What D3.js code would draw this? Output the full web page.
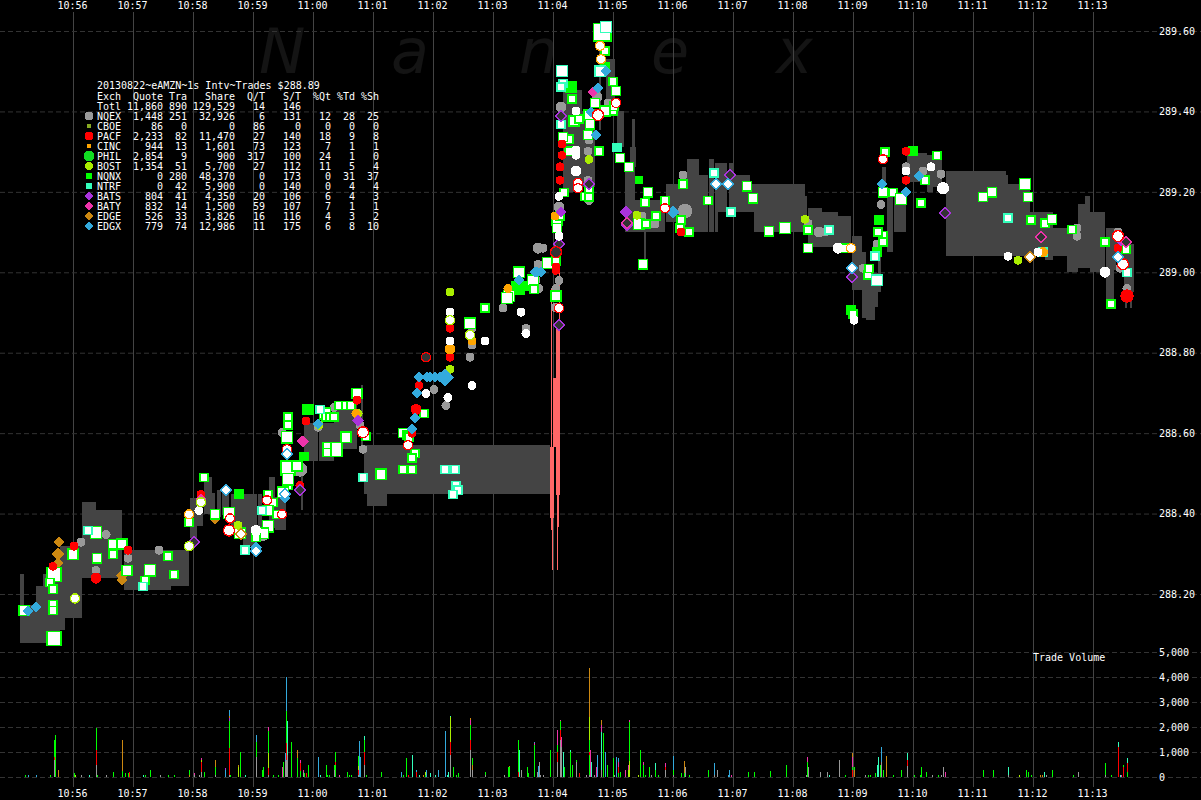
<!DOCTYPE html>
<html><head><meta charset="utf-8">
<style>
html,body{margin:0;padding:0;background:#000;overflow:hidden}
svg{display:block}
text{font-family:"DejaVu Sans Mono","Liberation Mono",monospace;font-size:10px;fill:#fff}
.mk{shape-rendering:crispEdges}
</style>
<script src="https://cdn.jsdelivr.net/npm/d3@7/dist/d3.min.js"></script>
</head><body><svg id="c" width="1201" height="800"></svg>
<script>
// ---- axes ----
const minuteLabels=["10:56","10:57","10:58","10:59","11:00","11:01","11:02","11:03","11:04","11:05","11:06","11:07","11:08","11:09","11:10","11:11","11:12","11:13"];
const priceTicks=[288.2,288.4,288.6,288.8,289.0,289.2,289.4,289.6];
const volumeTicks=[0,1000,2000,3000,4000,5000];
const watermark=["N","a","n","e","x"];
const watermarkSec=[186,318,446,578,703];
// ---- table ----
const titleLine="20130822~eAMZN~1s Intv~Trades $288.89";
const tableHead=["Exch","Quote","Tra","Share","Q/T","S/T","%Qt","%Td","%Sh"];
const totalRow=["Totl","11,860","890","129,529","14","146","","",""];
const exchanges=["NQEX","CBOE","PACF","CINC","PHIL","BOST","NQNX","NTRF","BATS","BATY","EDGE","EDGX"];
const quotes=["1,448","86","2,233","944","2,854","1,354","0","0","804","832","526","779"];
const tradesN=["251","0","82","13","9","51","280","42","41","14","33","74"];
const shares=["32,926","0","11,470","1,601","900","5,700","48,370","5,900","4,350","1,500","3,826","12,986"];
const qt=["6","86","27","73","317","27","0","0","20","59","16","11"];
const st=["131","0","140","123","100","112","173","140","106","107","116","175"];
const pctQt=["12","0","18","7","24","11","0","0","6","7","4","6"];
const pctTd=["28","0","9","1","1","5","31","4","4","1","3","8"];
const pctSh=["25","0","8","1","0","4","37","4","3","1","2","10"];
// ---- NBBO band: seconds after 10:56 and prices ----
const bandFrom=[-53,-49,-37,-30,-13,-8,9,23,51,98,117,124,131,139,144,149,158,170,185,196,202,228,231,246,261,288,291,294,480,490,509,526,533,544,552,557,559,562,571,593,612,614,626,636,642,645,656,660,677,681,732,735,749,765,779,789,793,802,805,809,814,821,834,854,860,873,933,935,957,972,980,994,1005,1012,1017,1033,1041,1043,1051,1052,1057];
const bandTo=[-49,-37,-30,-13,-8,9,23,49,98,116,124,130,139,142,148,156,170,184,189,202,213,230,245,261,284,290,477,314,481,509,522,528,542,551,562,563,562,592,573,612,614,626,635,641,645,654,660,677,681,732,734,749,765,778,789,793,802,805,808,813,820,833,854,860,869,933,935,957,972,980,994,1005,1012,1017,1032,1041,1043,1054,1061,1054,1059];
const bandHigh=[288.249,288.172,288.219,288.249,288.319,288.319,288.428,288.408,288.309,288.309,288.438,288.438,288.491,288.451,288.458,288.458,288.448,288.448,288.448,288.491,288.441,288.508,288.625,288.625,288.675,288.719,288.570,288.570,289.130,289.453,289.400,289.578,289.530,289.401,289.262,289.311,289.381,289.180,289.100,289.219,289.242,289.282,289.242,289.282,289.272,289.272,289.272,289.242,289.219,289.219,289.190,289.160,289.150,289.140,289.090,289.050,288.998,288.998,289.055,289.262,289.187,289.197,289.297,289.292,289.279,289.252,289.242,289.219,289.150,289.150,289.110,289.110,289.170,289.190,289.150,289.110,289.110,289.087,289.070,288.951,288.951];
const bandLow=[288.078,288.078,288.078,288.078,288.110,288.140,288.239,288.239,288.209,288.219,288.339,288.369,288.399,288.399,288.391,288.396,288.364,288.319,288.364,288.364,288.359,288.408,288.530,288.530,288.560,288.560,288.448,288.418,288.235,289.200,289.212,289.354,289.400,289.311,289.100,289.262,289.311,289.100,289.025,289.125,289.100,289.100,289.100,289.100,289.100,289.150,289.150,289.150,289.150,289.100,289.100,289.063,289.063,289.063,288.956,288.886,288.881,288.913,288.951,289.222,289.050,289.100,289.224,289.200,289.212,289.040,289.040,289.040,289.040,289.030,289.040,289.000,289.010,289.010,289.000,288.931,289.005,289.025,288.951,288.911,288.911];
// ---- crossed-market spike ----
const crossFrom=[477,478,479,480,483,484,484,486];
const crossTo=[481,479,480,486,487,486,485,487];
const crossHigh=[288.565,288.961,288.433,288.737,288.861,288.446,288.366,289.063];
const crossLow=[288.389,288.359,288.259,288.565,288.446,288.366,288.259,288.861];
// ---- markers: [seconds after 10:56, price, shares] ----
const nqexQuotes=[[8,288.329],[33,288.348],[55,288.289],[23,288.259],[86,288.309],[227,288.510,1000],[209,288.602],[245,288.615],[261,288.664],[287,288.620],[290,288.560],[190,288.345,300],[373,288.669],[361,288.709],[399,288.861],[397,288.789],[399,288.819],[430,288.911],[453,288.861],[447,289.000,300],[465,289.020],[462,288.980,300],[466,288.960],[486,288.980],[483,288.960],[465,289.060,300],[470,289.060],[482,288.913],[488,289.411,300],[524,289.436,300],[516,289.329],[515,289.301],[515,289.229],[535,289.421],[486,289.162,300],[516,289.179],[569,289.140],[577,289.120],[582,289.120],[610,289.242],[612,289.152,1000],[735,289.122],[746,289.100,300],[752,289.100],[808,289.169],[804,289.070],[790,289.010],[833,289.262],[850,289.252],[868,289.244],[1004,289.110],[1004,289.090],[1045,289.100],[1047,289.010],[1054,288.960]];
const nqexTrades=[[126,288.408],[377,288.901],[377,288.829],[412,288.829],[399,288.719],[353,288.699],[375,288.689],[448,288.901],[453,288.848],[503,289.401],[503,289.304],[503,289.291],[503,289.252,300],[486,289.189],[486,289.090],[765,289.060,300],[858,289.262],[870,289.209,500],[935,289.040],[965,289.050],[1032,289.000,300],[781,288.881],[833,289.252],[183,288.358,300]];
const pacfQuotes=[[1,288.319],[-20,288.269],[55,288.309],[23,288.239,300],[128,288.448],[227,288.470],[233,288.630],[346,288.719],[343,288.659,300],[339,288.600],[377,288.861],[377,288.789],[284,288.682],[483,289.013],[483,289.005],[487,289.262],[487,289.229],[489,289.319],[489,289.291],[608,289.100],[833,289.301],[833,289.229],[1045,289.060],[1054,288.941,700]];
const pacfTrades=[[157,288.388],[156,288.358,300],[209,288.398],[194,288.433],[214,288.560],[290,288.602,300],[335,288.570],[486,288.911],[505,289.222],[505,289.209],[525,289.391,300],[543,289.421],[592,289.159],[810,289.281],[1045,289.090,300],[1050,289.020,300]];
const pacfOpen=[[353,288.789],[483,289.050,300]];
const bostQuotes=[[246,288.620],[377,288.951],[377,288.759],[285,288.649],[516,289.281],[732,289.132],[945,289.030],[165,288.371],[564,289.142]];
const bostTrades=[[2,288.189],[116,288.319],[128,288.428],[377,288.881],[397,288.844]];
const cincQuotes=[[399,288.829],[377,288.809,300],[435,288.960],[283,288.649],[970,289.050,200],[482,289.140]];
const cincTrades=[[116,288.398],[778,289.060],[527,289.563],[528,289.530]];
const nqnxQuotes=[[235,288.659,500],[498,289.461,700],[566,289.229],[532,289.510,300],[445,288.960,1000],[452,288.967,300],[806,289.130,300],[804,289.050,300],[778,288.906,300],[840,289.301,300],[166,288.448,300],[231,288.542,200]];
const nqnxTrades=[[-49,288.159,300],[-19,288.249,1000],[-19,288.090,1000],[-23,288.229],[-20,288.212],[-20,288.174],[-20,288.159],[0,288.299,300],[23,288.353,500],[40,288.324,200],[49,288.324,300],[40,288.299],[24,288.289,200],[54,288.259,300],[77,288.259,500],[72,288.234],[95,288.294],[101,288.249],[116,288.378],[142,288.398,200],[156,288.401,400],[195,288.448],[200,288.428],[195,288.408,300],[195,288.368,500],[167,288.351,400],[190,288.351,400],[183,288.341],[204,288.398],[215,288.470],[131,288.490],[215,288.640],[215,288.620],[214,288.590,500],[215,288.513,1000],[224,288.518,300],[215,288.485,500],[210,288.453,400],[284,288.699,300],[252,288.649,400],[253,288.640],[257,288.640],[261,288.640],[266,288.669],[273,288.669],[278,288.669],[273,288.590,300],[262,288.560,1000],[254,288.567],[254,288.552],[293,288.592],[308,288.498,300],[333,288.510],[339,288.510],[330,288.510],[342,288.550],[339,288.538],[351,288.649],[330,288.600,200],[334,288.595],[336,288.590],[412,288.911],[397,288.873,400],[436,288.941,400],[434,288.936,400],[446,289.000,400],[460,288.980,400],[461,288.958],[475,289.023,400],[483,288.941,300],[529,289.597,2000],[532,289.550],[540,289.475],[543,289.451,200],[522,289.421,200],[540,289.401],[541,289.413],[532,289.401,300],[516,289.391,300],[517,289.368,200],[515,289.341,200],[526,289.301],[547,289.284,200],[556,289.262,200],[575,289.199,200],[572,289.174],[592,289.179],[583,289.140],[566,289.120,500],[573,289.120],[499,289.431],[501,289.376,300],[506,289.381],[496,289.331],[490,289.336,200],[496,289.301],[491,289.199],[516,289.204],[512,289.189],[516,289.187],[484,289.130,300],[484,289.110,200],[487,289.140],[483,289.028],[570,289.020,200],[610,289.219],[635,289.179],[608,289.130],[607,289.110],[616,289.100],[674,289.214,200],[680,289.184,200],[696,289.102,200],[712,289.110,400],[735,289.105],[735,289.060,200],[771,289.060],[812,289.299],[810,289.199,200],[820,289.199],[828,289.182,400],[848,289.172],[810,289.092],[805,289.100],[810,289.075],[780,288.896],[795,288.993],[796,289.010],[852,289.229],[864,289.291],[910,289.187,200],[919,289.199,200],[952,289.219,400],[955,289.187,200],[958,289.130],[972,289.122],[979,289.132,200],[999,289.107],[1032,289.075],[1053,289.057],[1038,288.921]];
const ntrfQuotes=[[544,289.311,200]];
const ntrfTrades=[[533,289.610,400],[527,289.500,300],[489,289.500,400],[488,289.368],[490,289.470],[488,289.461],[15,288.358],[70,288.219],[172,288.309],[189,288.408],[247,288.659],[290,288.490],[372,288.510],[382,288.510],[383,288.470],[385,288.458],[380,288.448],[641,289.247],[658,289.150],[756,289.105],[935,289.135],[804,288.980,400],[802,289.040],[1054,289.000],[970,289.050]];
const batsQuotes=[[285,288.632,200],[488,289.150],[553,289.150,200],[1048,289.080,200]];
const batsOpen=[[121,288.329],[227,288.458],[486,288.868],[488,289.388],[486,289.070],[516,289.219],[554,289.117],[657,289.242],[872,289.147],[779,288.988]];
const batyQuotes=[[128,288.436],[230,288.580,200],[520,289.448]];
const batyOpen=[[968,289.087],[554,289.122],[1053,289.075]];
const edgeQuotes=[[-14,288.329],[-15,288.299,300],[-15,288.276],[49,288.246],[49,288.236],[142,288.386]];
const edgeTrades=[[168,288.348],[957,289.038]];
const edgxQuotes=[[-45,288.157],[-37,288.167],[212,288.438],[183,288.316,200],[344,288.699],[342,288.637],[339,288.610],[346,288.739],[354,288.739],[357,288.739],[362,288.739],[367,288.739],[372,288.739,1000],[212,288.445],[245,288.622],[533,289.500],[525,289.458],[518,289.398],[523,289.341],[600,289.150,300],[833,289.199],[846,289.239],[809,289.219],[446,288.980],[462,289.000],[468,289.000],[464,289.000]];
const edgxTrades=[[153,288.458],[212,288.448],[655,289.219],[643,289.219],[779,289.010],[1045,289.038],[183,288.306],[214,288.547]];
// ---- volume: [seconds, stack from the bottom, letter=exchange + shares] ----
const volumeBars=[[-48,"n100"],[-45,"b100"],[-37,"b100"],[-23,"n100"],[-19,"g700 r100 n700"],[-18,"n1700"],[-15,"o300"],[1,"n150"],[2,"y100"],[8,"g100"],[16,"t100"],[23,"g500 r600 n850"],[24,"n100"],[33,"g100"],[40,"n200"],[49,"n250 o1250"],[52,"n150"],[55,"n150"],[56,"r200"],[70,"t100"],[72,"n100"],[77,"n300"],[87,"g100"],[95,"n100"],[101,"n100"],[116,"o100 n200"],[121,"g100 m50"],[126,"g100"],[128,"g200 r400 y80 m90"],[131,"n200"],[142,"g100 n300 o280"],[152,"b300 p50"],[156,"g100 r1050 n1100 p100 o100 b250"],[157,"n100"],[165,"y400 o100"],[167,"n1000"],[172,"t100"],[183,"g800 n600 b300"],[189,"n300"],[190,"n400"],[195,"g100 r250 y600 n900 m150"],[200,"n100"],[205,"n100"],[209,"m400"],[210,"n600"],[212,"g650 b300"],[213,"g700 r650 n1300 b1350"],[214,"g900 t1350"],[218,"n1400"],[224,"n750 o350"],[227,"n250 r300 m150"],[230,"g200 m100"],[231,"n180"],[233,"r150"],[235,"n500"],[245,"b800"],[247,"t100"],[253,"n500"],[254,"n100"],[256,"n100"],[261,"g300 n200"],[262,"n500 r100 n400"],[266,"m100"],[274,"n200"],[276,"n100"],[278,"n100"],[285,"g100 r200 y150 n400"],[286,"b1450"],[287,"b800"],[291,"g500 r500 n500 t150"],[293,"n100"],[308,"n200"],[328,"b200"],[330,"n100"],[333,"n750"],[335,"r100"],[339,"t900"],[343,"r200 b100"],[346,"t100"],[350,"o100"],[352,"n100 y100"],[353,"b300"],[357,"t150"],[362,"t100"],[365,"b300"],[372,"b1850"],[374,"t100"],[375,"t200"],[377,"g900 r500 y1000 t50"],[380,"n400"],[383,"n100"],[385,"n150"],[397,"g1100 r400 n600 m200 o50"],[399,"g300 o200 n250"],[412,"g100 n100"],[431,"g100"],[435,"n400"],[436,"n400 o50"],[445,"r200 n1300"],[446,"t1100"],[448,"g300"],[454,"n400"],[455,"n150"],[461,"n1300 m50 b50"],[464,"g200"],[466,"g600"],[465,"b450"],[467,"g100"],[470,"g100"],[477,"n1100"],[484,"g600 r400 n300 m600"],[487,"g1500 r400 n350 m50"],[488,"g1200 m400"],[490,"t1000"],[491,"n400"],[497,"n1000 t100"],[499,"n500"],[503,"g600 n100"],[506,"r150"],[513,"g100"],[516,"g100 n800 r100 n500 y900 o1950"],[517,"m1100"],[518,"t600"],[521,"g100"],[523,"m400"],[524,"b900"],[528,"g300 t1500 m300 o200"],[530,"n1750"],[532,"b1000"],[534,"n500"],[540,"n750"],[541,"g100"],[543,"b800"],[545,"n150 r250 m200 b150"],[547,"n200"],[552,"m300"],[555,"y300 m200"],[556,"y650 n1550 m100"],[565,"y100"],[567,"n1100"],[570,"n500 m100"],[572,"n100"],[576,"n400"],[578,"g100"],[582,"n300 t250"],[585,"n100"],[592,"g300 r100 m150"],[600,"g100 n200 b550"],[608,"n150"],[611,"n150 o500"],[612,"g400"],[616,"n100"],[635,"n300"],[641,"g100 b450"],[644,"g300"],[655,"b100"],[656,"b300"],[658,"m100"],[675,"n200"],[681,"n200"],[697,"n250"],[713,"n500"],[733,"g100"],[734,"n600 m200"],[735,"g400"],[747,"g200"],[754,"g200"],[756,"t100"],[766,"g700"],[772,"n100"],[779,"r300 n100 m400 o150"],[781,"o300 n100"],[792,"g100"],[795,"n100"],[797,"n100"],[802,"n150"],[804,"t500"],[805,"t800"],[807,"n500"],[808,"g600 b600"],[810,"n300"],[813,"o850"],[820,"n100"],[828,"n300"],[834,"g450 r250 t250"],[841,"n100"],[847,"n100"],[848,"n400"],[853,"n200"],[859,"g100"],[865,"n100"],[868,"g100"],[870,"g400"],[872,"m200"],[910,"n300"],[920,"n300"],[935,"g100 t300"],[946,"y100"],[953,"n300"],[955,"n200"],[958,"n100"],[967,"o100"],[969,"o100"],[971,"t200"],[973,"g100"],[979,"n300"],[1000,"n100"],[1005,"g200"],[1032,"g100 n450"],[1038,"n100"],[1045,"r1200 t200"],[1047,"t100"],[1048,"m100"],[1050,"r400 n100"],[1054,"n200 r350 t200"]];

// ---- colours ----
const colour={NQEX:"#999999",CBOE:"#88aa22",PACF:"#ff0000",CINC:"#ffa500",PHIL:"#11dd22",BOST:"#aaee00",NQNX:"#00ff00",NTRF:"#33ffbb",BATS:"#aa33dd",BATY:"#ee33aa",EDGE:"#cc8811",EDGX:"#33aadd"};
const letter={g:colour.NQEX,r:colour.PACF,y:colour.BOST,o:colour.EDGE,n:colour.NQNX,t:colour.NTRF,p:colour.BATS,m:colour.BATY,b:colour.EDGX};

const svg=d3.select("#c");
const x=d3.scaleLinear().domain([0,1020]).range([73,1093]);
const y=d3.scaleLinear().domain([288.2,289.6]).range([594,31]);
const yVol=d3.scaleLinear().domain([0,5000]).range([777,652]);
const shareSide=d3.scaleSqrt().domain([100,2000]).range([9.5,19]);
const minuteSecs=minuteLabels.map((_,i)=>i*60);
const minuteFmt=s=>minuteLabels[s/60];

// watermark
svg.append("g").selectAll("text").data(watermark).join("text")
  .attr("x",(d,i)=>x(watermarkSec[i])).attr("y",73)
  .style("font-family","'DejaVu Sans',sans-serif").style("font-style","italic").style("font-size","62px").style("fill","#141414")
  .text(d=>d);

// grid
const gridV=svg.append("g").attr("transform","translate(0,787)")
  .call(d3.axisBottom(x).tickValues(minuteSecs).tickSize(-775).tickFormat(""));
gridV.select(".domain").remove();
gridV.selectAll("line").attr("stroke","#444");
const dash=g=>{g.select(".domain").remove();g.selectAll("line").attr("stroke","#333").attr("stroke-dasharray","5,3");g.selectAll("text").remove();};
svg.append("g").call(d3.axisRight(y).tickValues(priceTicks).tickSize(1201).tickFormat("")).call(dash);
svg.append("g").call(d3.axisRight(yVol).tickValues(volumeTicks).tickSize(1201).tickFormat("")).call(dash);

// band
svg.append("g").attr("class","mk").selectAll("rect").data(bandFrom).join("rect")
  .attr("x",(d)=>x(d)).attr("width",(d,i)=>x(bandTo[i])-x(d))
  .attr("y",(d,i)=>y(bandHigh[i])).attr("height",(d,i)=>y(bandLow[i])-y(bandHigh[i])).attr("fill","#444");
svg.append("g").attr("class","mk").selectAll("rect").data(crossFrom).join("rect")
  .attr("x",(d)=>x(d)).attr("width",(d,i)=>x(crossTo[i])-x(d))
  .attr("y",(d,i)=>y(crossHigh[i])).attr("height",(d,i)=>y(crossLow[i])-y(crossHigh[i])).attr("fill","#ff6666");

// volume
const segs=[];
volumeBars.forEach(([s,stack])=>{let acc=0;stack.split(" ").forEach(p=>{const v=+p.slice(1);segs.push({s,y0:acc,y1:acc+v,c:letter[p[0]]});acc+=v;});});
svg.append("g").attr("class","mk").selectAll("rect").data(segs).join("rect")
  .attr("x",d=>x(d.s)).attr("width",1).attr("y",d=>yVol(d.y1)).attr("height",d=>yVol(d.y0)-yVol(d.y1)).attr("fill",d=>d.c);

// markers
const sym=(t,a)=>d3.symbol().type(t).size(a)();
const mark=(data,shape,fill,stroke)=>{
  const g=svg.append("g").attr("class","mk");
  g.selectAll("path").data(data).join("path")
   .attr("transform",d=>`translate(${x(d[0])},${y(d[1])})`+(shape==="diamond"?" rotate(45)":""))
   .attr("d",d=>{const s=shareSide(d[2]||100);
     if(shape==="square")return sym(d3.symbolSquare,(s-1.4)*(s-1.4));
     if(shape==="circle"){const r=s/2.1;return sym(d3.symbolCircle,Math.PI*r*r);}
     const h=s*0.58;return sym(d3.symbolSquare,2*h*h);})
   .attr("fill",fill).attr("stroke",stroke||"none").attr("stroke-width",stroke?1.4:0);
};
mark(edgeQuotes,"diamond",colour.EDGE);
mark(nqexQuotes,"circle",colour.NQEX);
mark(nqnxQuotes,"square",colour.NQNX);
mark(ntrfQuotes,"square",colour.NTRF);
mark(nqnxTrades,"square","#fff",colour.NQNX);
mark(ntrfTrades,"square","#fff",colour.NTRF);
mark(pacfQuotes,"circle",colour.PACF);
mark(bostQuotes,"circle",colour.BOST);
mark(cincQuotes,"circle",colour.CINC);
mark(batsQuotes,"diamond",colour.BATS);
mark(batyQuotes,"diamond",colour.BATY);
mark(batsOpen,"diamond","#333",colour.BATS);
mark(batyOpen,"diamond","#333",colour.BATY);
mark(edgxQuotes,"diamond",colour.EDGX);
mark(nqexTrades,"circle","#fff");
mark(pacfOpen,"circle","#333",colour.PACF);
mark(pacfTrades,"circle","#fff",colour.PACF);
mark(bostTrades,"circle","#fff",colour.BOST);
mark(cincTrades,"circle","#fff",colour.CINC);
mark(edgeTrades,"diamond","#fff",colour.EDGE);
mark(edgxTrades,"diamond","#fff",colour.EDGX);

// axis labels
const clean=g=>{g.select(".domain").remove();g.selectAll("line").remove();};
svg.append("g").attr("transform","translate(-1,12)").call(d3.axisTop(x).tickValues(minuteSecs).tickSize(0).tickPadding(3).tickFormat(minuteFmt)).call(clean);
svg.append("g").attr("transform","translate(-1,787)").call(d3.axisBottom(x).tickValues(minuteSecs).tickSize(0).tickPadding(3).tickFormat(minuteFmt)).call(clean);
svg.append("g").attr("transform","translate(1156,0)").call(d3.axisRight(y).tickValues(priceTicks).tickSize(0).tickPadding(3).tickFormat(d3.format(".2f"))).call(clean);
svg.append("g").attr("transform","translate(1156,0)").call(d3.axisRight(yVol).tickValues(volumeTicks).tickSize(0).tickPadding(3).tickFormat(d3.format(","))).call(clean);
svg.selectAll("g").filter(function(){return this.getAttribute("font-family")}).attr("font-family",null).attr("font-size",null);
svg.append("text").attr("x",1033).attr("y",661).text("Trade Volume");

// table
const colRight=[null,163,187,235,265,301,331,355,379];
const rowText=(vals,rowY)=>vals.forEach((v,i)=>{
  if(v==="")return;
  svg.append("text").attr("x",i===0?97:colRight[i]).attr("y",rowY).attr("text-anchor",i===0?"start":"end").text(v);
});
svg.append("text").attr("x",97).attr("y",89).text(titleLine);
rowText(tableHead,100);
rowText(totalRow,110);
const swatch={NQEX:["circle",9],CBOE:["circle",5],PACF:["circle",9],CINC:["circle",5],PHIL:["circle",11],BOST:["circle",7.5],NQNX:["square",6],NTRF:["square",6],BATS:["diamond",4.5],BATY:["diamond",4.5],EDGE:["diamond",4.5],EDGX:["diamond",4.5]};
exchanges.forEach((ex,i)=>{
  const ry=120+i*10;
  rowText([ex,quotes[i],tradesN[i],shares[i],qt[i],st[i],pctQt[i],pctTd[i],pctSh[i]],ry);
  const [shape,sz]=swatch[ex];
  const t=`translate(89,${ry-4})`+(shape==="diamond"?" rotate(45)":"");
  const area=shape==="circle"?Math.PI*sz*sz/4:sz*sz*(shape==="diamond"?2:1);
  svg.append("path").attr("class","mk").attr("transform",t)
    .attr("d",sym(shape==="circle"?d3.symbolCircle:d3.symbolSquare,area)).attr("fill",colour[ex]);
});
</script></body></html>
